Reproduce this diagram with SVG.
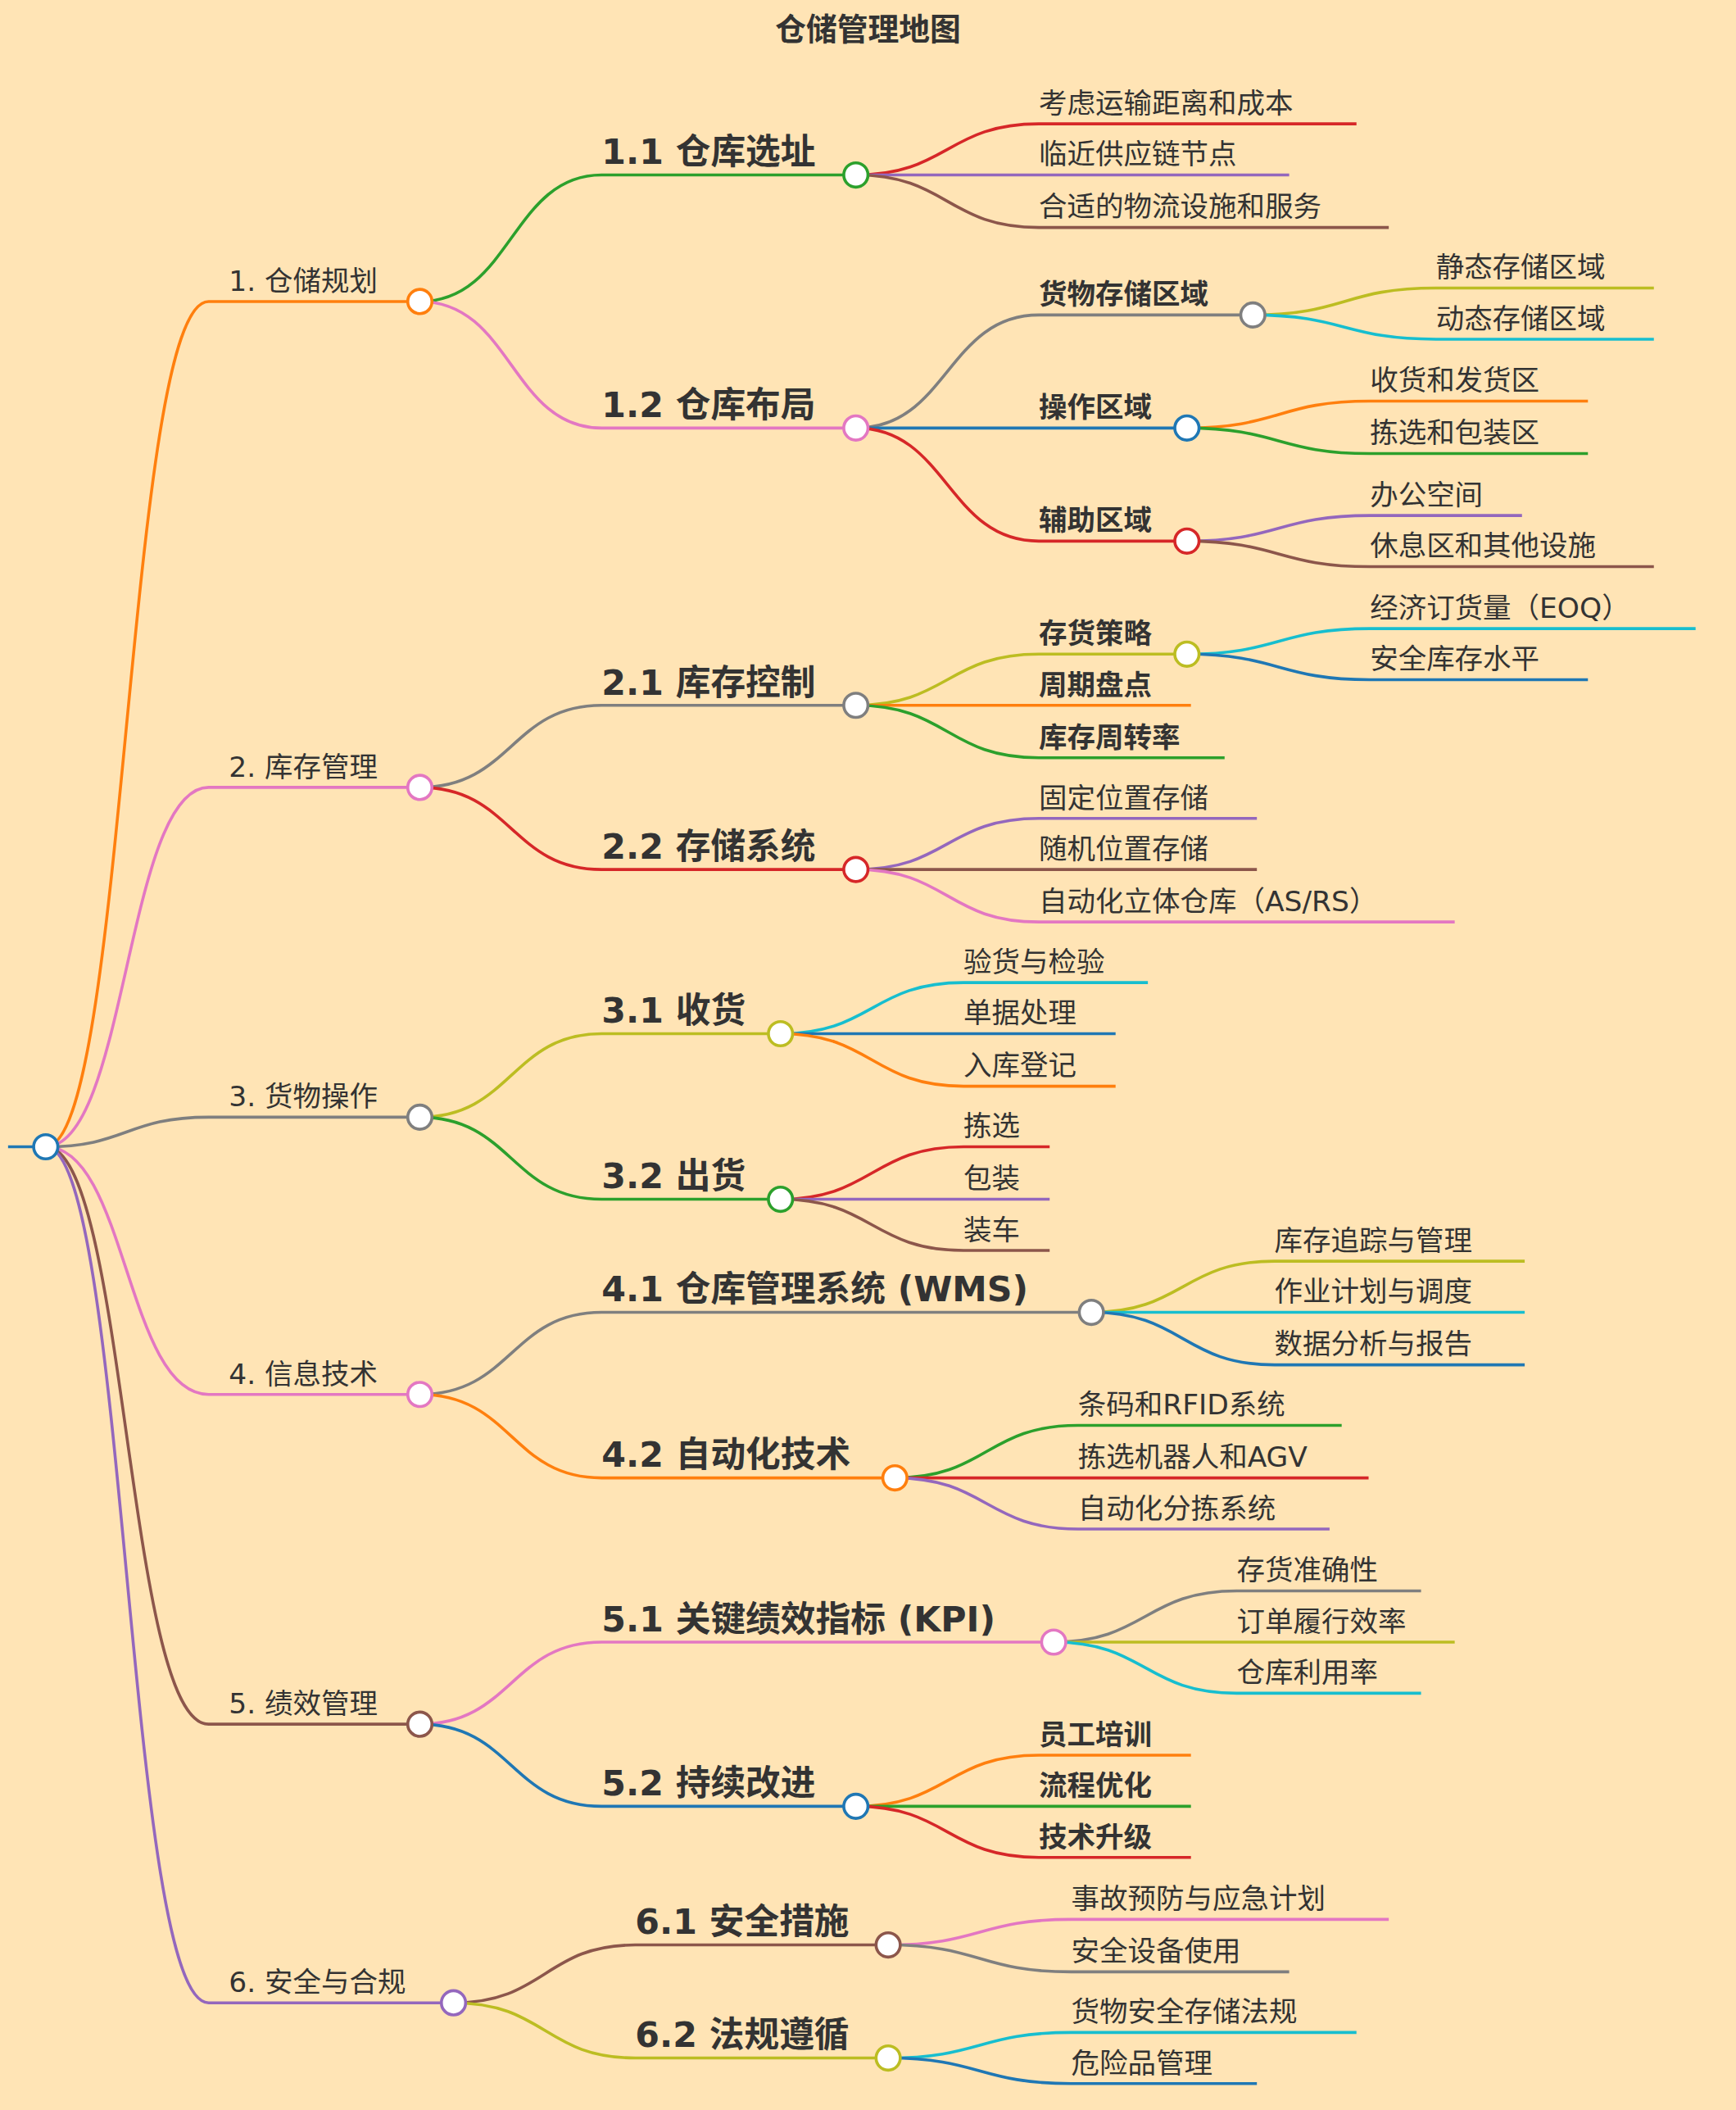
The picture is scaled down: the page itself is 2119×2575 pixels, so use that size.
<svg xmlns="http://www.w3.org/2000/svg" width="2119" height="2575" viewBox="0 0 2119 2575">
<style>
.e{fill:none;stroke-width:2.2}
.c{fill:#fff;stroke-width:2.2}
text{font-family:"DejaVu Sans","Noto Sans CJK SC",sans-serif;fill:#333}
.t1{font-size:21px}
.t2{font-size:26px;font-weight:bold}
.t3{font-size:21px}
.tb{font-size:21px;font-weight:bold}
</style>
<rect width="2119" height="2575" fill="#ffe4b5"/>
<g transform="scale(1.6426)">
<text x="645" y="30" text-anchor="middle" style="font-size:23px;font-weight:bold">仓储管理地图</text>
<g id="connectors">
<path class="e" stroke="#1f77b4" d="M6 852 L34 852"/>
<path class="e" stroke="#ff7f0e" d="M34 852 C94 852 94 224 155 224 L312 224"/>
<path class="e" stroke="#e377c2" d="M34 852 C94 852 94 585 155 585 L312 585"/>
<path class="e" stroke="#7f7f7f" d="M34 852 C94 852 94 830 155 830 L312 830"/>
<path class="e" stroke="#e377c2" d="M34 852 C94 852 94 1036 155 1036 L312 1036"/>
<path class="e" stroke="#8c564b" d="M34 852 C94 852 94 1281 155 1281 L312 1281"/>
<path class="e" stroke="#9467bd" d="M34 852 C94 852 94 1488 155 1488 L337 1488"/>
<path class="e" stroke="#2ca02c" d="M312 224 C380 224 380 130 447 130 L636 130"/>
<path class="e" stroke="#e377c2" d="M312 224 C380 224 380 318 447 318 L636 318"/>
<path class="e" stroke="#7f7f7f" d="M312 585 C380 585 380 524 447 524 L636 524"/>
<path class="e" stroke="#d62728" d="M312 585 C380 585 380 646 447 646 L636 646"/>
<path class="e" stroke="#bcbd22" d="M312 830 C380 830 380 768 447 768 L580 768"/>
<path class="e" stroke="#2ca02c" d="M312 830 C380 830 380 891 447 891 L580 891"/>
<path class="e" stroke="#7f7f7f" d="M312 1036 C380 1036 380 975 447 975 L811 975"/>
<path class="e" stroke="#ff7f0e" d="M312 1036 C380 1036 380 1098 447 1098 L665 1098"/>
<path class="e" stroke="#e377c2" d="M312 1281 C380 1281 380 1220 447 1220 L783 1220"/>
<path class="e" stroke="#1f77b4" d="M312 1281 C380 1281 380 1342 447 1342 L636 1342"/>
<path class="e" stroke="#8c564b" d="M337 1488 C405 1488 405 1445 472 1445 L660 1445"/>
<path class="e" stroke="#bcbd22" d="M337 1488 C405 1488 405 1529 472 1529 L660 1529"/>
<path class="e" stroke="#d62728" d="M636 130 C704 130 704 92 772 92 L1008 92"/>
<path class="e" stroke="#9467bd" d="M636 130 C704 130 704 130 772 130 L958 130"/>
<path class="e" stroke="#8c564b" d="M636 130 C704 130 704 169 772 169 L1032 169"/>
<path class="e" stroke="#7f7f7f" d="M636 318 C704 318 704 234 772 234 L931 234"/>
<path class="e" stroke="#1f77b4" d="M636 318 C704 318 704 318 772 318 L882 318"/>
<path class="e" stroke="#d62728" d="M636 318 C704 318 704 402 772 402 L882 402"/>
<path class="e" stroke="#bcbd22" d="M931 234 C999 234 999 214 1067 214 L1229 214"/>
<path class="e" stroke="#17becf" d="M931 234 C999 234 999 252 1067 252 L1229 252"/>
<path class="e" stroke="#ff7f0e" d="M882 318 C950 318 950 298 1018 298 L1180 298"/>
<path class="e" stroke="#2ca02c" d="M882 318 C950 318 950 337 1018 337 L1180 337"/>
<path class="e" stroke="#9467bd" d="M882 402 C950 402 950 383 1018 383 L1131 383"/>
<path class="e" stroke="#8c564b" d="M882 402 C950 402 950 421 1018 421 L1229 421"/>
<path class="e" stroke="#bcbd22" d="M636 524 C704 524 704 486 772 486 L882 486"/>
<path class="e" stroke="#ff7f0e" d="M636 524 C704 524 704 524 772 524 L885 524"/>
<path class="e" stroke="#2ca02c" d="M636 524 C704 524 704 563 772 563 L910 563"/>
<path class="e" stroke="#17becf" d="M882 486 C950 486 950 467 1018 467 L1260 467"/>
<path class="e" stroke="#1f77b4" d="M882 486 C950 486 950 505 1018 505 L1180 505"/>
<path class="e" stroke="#9467bd" d="M636 646 C704 646 704 608 772 608 L934 608"/>
<path class="e" stroke="#8c564b" d="M636 646 C704 646 704 646 772 646 L934 646"/>
<path class="e" stroke="#e377c2" d="M636 646 C704 646 704 685 772 685 L1081 685"/>
<path class="e" stroke="#17becf" d="M580 768 C648 768 648 730 716 730 L853 730"/>
<path class="e" stroke="#1f77b4" d="M580 768 C648 768 648 768 716 768 L829 768"/>
<path class="e" stroke="#ff7f0e" d="M580 768 C648 768 648 807 716 807 L829 807"/>
<path class="e" stroke="#d62728" d="M580 891 C648 891 648 852 716 852 L780 852"/>
<path class="e" stroke="#9467bd" d="M580 891 C648 891 648 891 716 891 L780 891"/>
<path class="e" stroke="#8c564b" d="M580 891 C648 891 648 929 716 929 L780 929"/>
<path class="e" stroke="#bcbd22" d="M811 975 C879 975 879 937 947 937 L1133 937"/>
<path class="e" stroke="#17becf" d="M811 975 C879 975 879 975 947 975 L1133 975"/>
<path class="e" stroke="#1f77b4" d="M811 975 C879 975 879 1014 947 1014 L1133 1014"/>
<path class="e" stroke="#2ca02c" d="M665 1098 C733 1098 733 1059 801 1059 L997 1059"/>
<path class="e" stroke="#d62728" d="M665 1098 C733 1098 733 1098 801 1098 L1017 1098"/>
<path class="e" stroke="#9467bd" d="M665 1098 C733 1098 733 1136 801 1136 L988 1136"/>
<path class="e" stroke="#7f7f7f" d="M783 1220 C851 1220 851 1182 919 1182 L1056 1182"/>
<path class="e" stroke="#bcbd22" d="M783 1220 C851 1220 851 1220 919 1220 L1081 1220"/>
<path class="e" stroke="#17becf" d="M783 1220 C851 1220 851 1258 919 1258 L1056 1258"/>
<path class="e" stroke="#ff7f0e" d="M636 1342 C704 1342 704 1304 772 1304 L885 1304"/>
<path class="e" stroke="#2ca02c" d="M636 1342 C704 1342 704 1342 772 1342 L885 1342"/>
<path class="e" stroke="#d62728" d="M636 1342 C704 1342 704 1380 772 1380 L885 1380"/>
<path class="e" stroke="#e377c2" d="M660 1445 C728 1445 728 1426 796 1426 L1032 1426"/>
<path class="e" stroke="#7f7f7f" d="M660 1445 C728 1445 728 1465 796 1465 L958 1465"/>
<path class="e" stroke="#17becf" d="M660 1529 C728 1529 728 1510 796 1510 L1008 1510"/>
<path class="e" stroke="#1f77b4" d="M660 1529 C728 1529 728 1548 796 1548 L934 1548"/>
</g>
<g id="root"><circle class="c" stroke="#1f77b4" cx="34" cy="852" r="9"/></g>
<g id="n1"><text class="t1" x="170" y="216">1. 仓储规划</text><circle class="c" stroke="#ff7f0e" cx="312" cy="224" r="9"/></g>
<g id="n2"><text class="t1" x="170" y="577">2. 库存管理</text><circle class="c" stroke="#e377c2" cx="312" cy="585" r="9"/></g>
<g id="n3"><text class="t1" x="170" y="822">3. 货物操作</text><circle class="c" stroke="#7f7f7f" cx="312" cy="830" r="9"/></g>
<g id="n4"><text class="t1" x="170" y="1028">4. 信息技术</text><circle class="c" stroke="#e377c2" cx="312" cy="1036" r="9"/></g>
<g id="n5"><text class="t1" x="170" y="1273">5. 绩效管理</text><circle class="c" stroke="#8c564b" cx="312" cy="1281" r="9"/></g>
<g id="n6"><text class="t1" x="170" y="1480">6. 安全与合规</text><circle class="c" stroke="#9467bd" cx="337" cy="1488" r="9"/></g>
<g id="n11"><text class="t2" x="447" y="122">1.1 仓库选址</text><circle class="c" stroke="#2ca02c" cx="636" cy="130" r="9"/></g>
<g id="n12"><text class="t2" x="447" y="310">1.2 仓库布局</text><circle class="c" stroke="#e377c2" cx="636" cy="318" r="9"/></g>
<g id="n21"><text class="t2" x="447" y="516">2.1 库存控制</text><circle class="c" stroke="#7f7f7f" cx="636" cy="524" r="9"/></g>
<g id="n22"><text class="t2" x="447" y="638">2.2 存储系统</text><circle class="c" stroke="#d62728" cx="636" cy="646" r="9"/></g>
<g id="n31"><text class="t2" x="447" y="760">3.1 收货</text><circle class="c" stroke="#bcbd22" cx="580" cy="768" r="9"/></g>
<g id="n32"><text class="t2" x="447" y="883">3.2 出货</text><circle class="c" stroke="#2ca02c" cx="580" cy="891" r="9"/></g>
<g id="n41"><text class="t2" x="447" y="967">4.1 仓库管理系统 (WMS)</text><circle class="c" stroke="#7f7f7f" cx="811" cy="975" r="9"/></g>
<g id="n42"><text class="t2" x="447" y="1090">4.2 自动化技术</text><circle class="c" stroke="#ff7f0e" cx="665" cy="1098" r="9"/></g>
<g id="n51"><text class="t2" x="447" y="1212">5.1 关键绩效指标 (KPI)</text><circle class="c" stroke="#e377c2" cx="783" cy="1220" r="9"/></g>
<g id="n52"><text class="t2" x="447" y="1334">5.2 持续改进</text><circle class="c" stroke="#1f77b4" cx="636" cy="1342" r="9"/></g>
<g id="n61"><text class="t2" x="472" y="1437">6.1 安全措施</text><circle class="c" stroke="#8c564b" cx="660" cy="1445" r="9"/></g>
<g id="n62"><text class="t2" x="472" y="1521">6.2 法规遵循</text><circle class="c" stroke="#bcbd22" cx="660" cy="1529" r="9"/></g>
<g id="leaves1">
<text class="t3" x="772" y="84">考虑运输距离和成本</text>
<text class="t3" x="772" y="122">临近供应链节点</text>
<text class="t3" x="772" y="161">合适的物流设施和服务</text>
</g>
<g id="n121"><text class="tb" x="772" y="226">货物存储区域</text><circle class="c" stroke="#7f7f7f" cx="931" cy="234" r="9"/></g>
<g id="n122"><text class="tb" x="772" y="310">操作区域</text><circle class="c" stroke="#1f77b4" cx="882" cy="318" r="9"/></g>
<g id="n123"><text class="tb" x="772" y="394">辅助区域</text><circle class="c" stroke="#d62728" cx="882" cy="402" r="9"/></g>
<g id="leaves12">
<text class="t3" x="1067" y="206">静态存储区域</text>
<text class="t3" x="1067" y="244">动态存储区域</text>
<text class="t3" x="1018" y="290">收货和发货区</text>
<text class="t3" x="1018" y="329">拣选和包装区</text>
<text class="t3" x="1018" y="375">办公空间</text>
<text class="t3" x="1018" y="413">休息区和其他设施</text>
</g>
<g id="n211"><text class="tb" x="772" y="478">存货策略</text><circle class="c" stroke="#bcbd22" cx="882" cy="486" r="9"/></g>
<g id="n212"><text class="tb" x="772" y="516">周期盘点</text></g>
<g id="n213"><text class="tb" x="772" y="555">库存周转率</text></g>
<g id="leaves2">
<text class="t3" x="1018" y="459">经济订货量（EOQ）</text>
<text class="t3" x="1018" y="497">安全库存水平</text>
<text class="t3" x="772" y="600">固定位置存储</text>
<text class="t3" x="772" y="638">随机位置存储</text>
<text class="t3" x="772" y="677">自动化立体仓库（AS/RS）</text>
</g>
<g id="leaves3">
<text class="t3" x="716" y="722">验货与检验</text>
<text class="t3" x="716" y="760">单据处理</text>
<text class="t3" x="716" y="799">入库登记</text>
<text class="t3" x="716" y="844">拣选</text>
<text class="t3" x="716" y="883">包装</text>
<text class="t3" x="716" y="921">装车</text>
</g>
<g id="leaves4">
<text class="t3" x="947" y="929">库存追踪与管理</text>
<text class="t3" x="947" y="967">作业计划与调度</text>
<text class="t3" x="947" y="1006">数据分析与报告</text>
<text class="t3" x="801" y="1051">条码和RFID系统</text>
<text class="t3" x="801" y="1090">拣选机器人和AGV</text>
<text class="t3" x="801" y="1128">自动化分拣系统</text>
</g>
<g id="leaves5">
<text class="t3" x="919" y="1174">存货准确性</text>
<text class="t3" x="919" y="1212">订单履行效率</text>
<text class="t3" x="919" y="1250">仓库利用率</text>
<text class="tb" x="772" y="1296">员工培训</text>
<text class="tb" x="772" y="1334">流程优化</text>
<text class="tb" x="772" y="1372">技术升级</text>
</g>
<g id="leaves6">
<text class="t3" x="796" y="1418">事故预防与应急计划</text>
<text class="t3" x="796" y="1457">安全设备使用</text>
<text class="t3" x="796" y="1502">货物安全存储法规</text>
<text class="t3" x="796" y="1540">危险品管理</text>
</g>
</g>
</svg>
